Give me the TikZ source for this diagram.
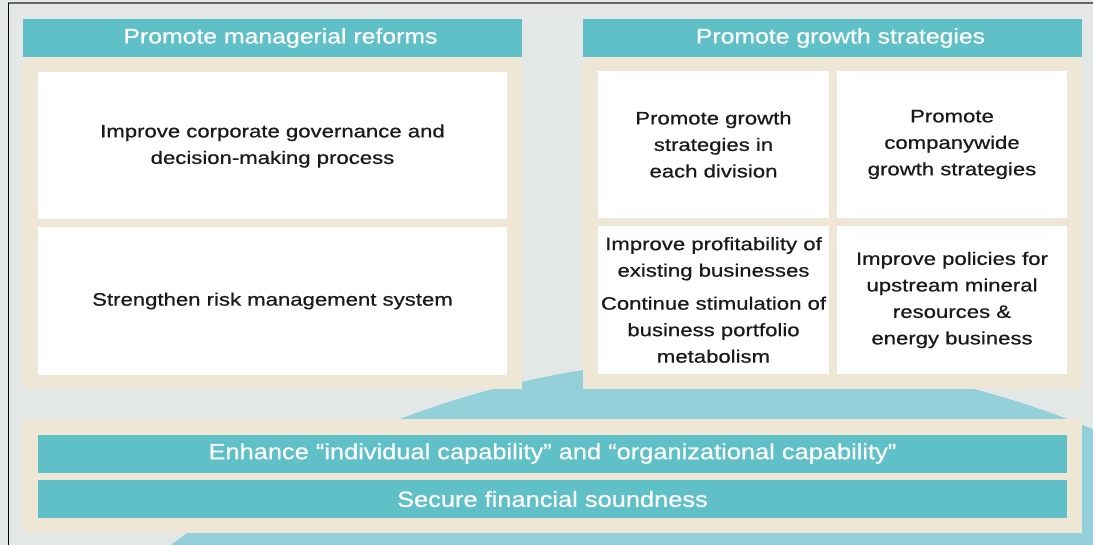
\documentclass[tikz,border=0pt]{standalone}
\usepackage{fontspec}
\setmainfont{Liberation Sans}
\newfontfamily\bodyfont{Liberation Sans}[FakeBold=0.7, FakeStretch=1.23]
\newfontfamily\headfont{Liberation Sans}[FakeBold=0.6, FakeStretch=1.18]
\newfontfamily\barfont{Liberation Sans}[FakeBold=0.6, FakeStretch=1.155]
\definecolor{pagebg}{HTML}{E3E8E7}
\definecolor{teal}{HTML}{5FC0C7}
\definecolor{sand}{HTML}{EFE7D6}
\definecolor{arcblue}{HTML}{94D0DA}
\definecolor{ink}{HTML}{1A1A1A}
\tikzset{
  band/.style={fill=teal, draw=none, inner sep=0pt, minimum height=38pt},
  bandtext/.style={inner sep=0pt, text=white, xshift=8pt,
    font=\headfont\fontsize{21}{25}\selectfont},
  tray/.style={fill=sand, draw=none, inner sep=0pt},
  cell/.style={fill=white, draw=none, inner sep=0pt, align=center, text=ink,
    font=\bodyfont\fontsize{18}{26.5}\selectfont},
  bar/.style={fill=teal, draw=none, inner sep=0pt, minimum width=1029pt,
    minimum height=38pt, text=white, font=\barfont\fontsize{22}{26}\selectfont},
}
\begin{document}
\begin{tikzpicture}[x=1pt, y=-1pt]
  \useasboundingbox (0,0) rectangle (1093,545);
  % page background and the large arc behind the panels
  \fill[pagebg] (0,0) rectangle (1093,545);
  \begin{scope}
    \clip (0,0) rectangle (1093,545);
    \fill[arcblue] (733.5,1298) circle[radius=940];
  \end{scope}
  % frame lines
  \draw[line width=2pt, color=black!60] (8,3.5) -- (1093,3.5);
  \draw[line width=1pt, color=black] (8,3) -- (8,545);

  % left column: managerial reforms
  \node[tray, minimum width=499pt, minimum height=332pt] (ltray) at (272.5,223) {};
  \node[band, minimum width=499pt] (lhead) at (272.5,38) {};
  \node[bandtext] (lheadtext) at (lhead.center) {Promote managerial reforms};
  \node[cell, minimum width=469pt, minimum height=147pt] (gov) at (272.5,146)
    {Improve corporate governance and\\decision-making process};
  \node[cell, minimum width=469pt, minimum height=148pt] (risk) at (272.5,301)
    {Strengthen risk management system};

  % right column: growth strategies
  \node[tray, minimum width=499pt, minimum height=332pt] (rtray) at (832.5,223) {};
  \node[band, minimum width=499pt] (rhead) at (832.5,38) {};
  \node[bandtext] (rheadtext) at (rhead.center) {Promote growth strategies};
  \node[cell, minimum width=231pt, minimum height=147pt] (div) at (713.5,144.5)
    {Promote growth\\strategies in\\each division};
  \node[cell, minimum width=230pt, minimum height=147pt] (comp) at (952,144.5)
    {Promote\\companywide\\growth strategies};
  \node[cell, minimum width=231pt, minimum height=148pt] (prof) at (713.5,300)
    {Improve profitability of\\existing businesses\\[6.5pt]Continue stimulation of\\business portfolio\\metabolism};
  \node[cell, minimum width=230pt, minimum height=148pt] (upst) at (952,300)
    {Improve policies for\\upstream mineral\\resources \&\\energy business};

  % foundation bars
  \node[tray, minimum width=1059pt, minimum height=114pt] (btray) at (552.5,476) {};
  \node[bar] (capab) at (552.5,453.5)
    {Enhance “individual capability” and “organizational capability”};
  \node[bar] (fin) at (552.5,499) {Secure financial soundness};
\end{tikzpicture}
\end{document}
